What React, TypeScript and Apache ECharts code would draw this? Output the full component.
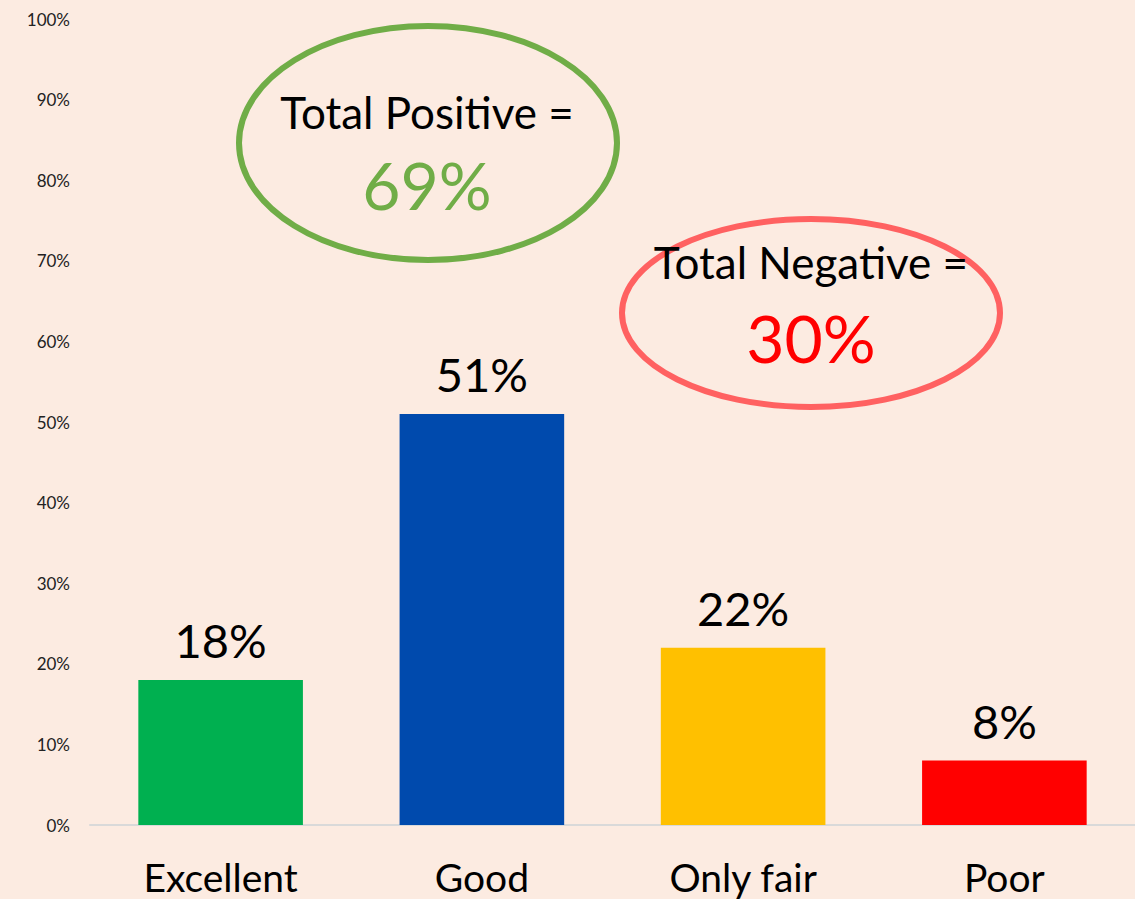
import React, { useEffect, useRef } from "react";
import * as echarts from "echarts";

const categories = ["Excellent", "Good", "Only fair", "Poor"];
const values = [18, 51, 22, 8];
const barColors = ["#00B050", "#004AAD", "#FFC000", "#FF0000"];
const yTicks = [0, 10, 20, 30, 40, 50, 60, 70, 80, 90, 100];
const positiveTotal = "69%";
const negativeTotal = "30%";

const FONT = "Lato, 'Open Sans', sans-serif";

export default function App() {
  const ref = useRef<HTMLDivElement>(null);
  useEffect(() => {
    if (!ref.current) return;
    const chart = echarts.init(ref.current, null, { renderer: "svg" });
    chart.setOption({
      animation: false,
      backgroundColor: "#FCEBE1",
      grid: { left: 90, right: 0, top: 19, bottom: 74, containLabel: false },
      xAxis: {
        type: "category",
        data: categories,
        axisLine: { show: true, lineStyle: { color: "#D9D9D9", width: 2 } },
        axisTick: { show: false },
        axisLabel: { color: "#000", fontSize: 39, fontFamily: FONT, margin: 32 },
      },
      yAxis: {
        type: "value",
        min: yTicks[0],
        max: yTicks[yTicks.length - 1],
        interval: 10,
        splitLine: { show: false },
        axisLine: { show: false },
        axisTick: { show: false },
        axisLabel: {
          color: "#222",
          fontSize: 17,
          fontFamily: FONT,
          margin: 20,
          formatter: (v: number) => v + "%",
        },
      },
      series: [
        {
          type: "bar",
          barWidth: "63%",
          data: values.map((v, i) => ({ value: v, itemStyle: { color: barColors[i] } })),
          label: {
            show: true,
            position: "top",
            distance: 16,
            color: "#000",
            fontSize: 47,
            fontFamily: FONT,
            formatter: "{c}%",
          },
        },
      ],
      graphic: [
        {
          type: "ellipse",
          shape: { cx: 428, cy: 143, rx: 189, ry: 117 },
          style: { fill: "none", stroke: "#70AD47", lineWidth: 6 },
        },
        {
          type: "text",
          x: 427,
          y: 112,
          style: {
            text: "Total Positive =",
            fill: "#000",
            font: `44px ${FONT}`,
            textAlign: "center",
            textVerticalAlign: "middle",
          },
        },
        {
          type: "text",
          x: 427,
          y: 184,
          style: {
            text: positiveTotal,
            fill: "#70AD47",
            font: `66px ${FONT}`,
            textAlign: "center",
            textVerticalAlign: "middle",
          },
        },
        {
          type: "ellipse",
          shape: { cx: 811, cy: 313, rx: 189, ry: 94 },
          style: { fill: "none", stroke: "#FF6161", lineWidth: 6 },
        },
        {
          type: "text",
          x: 811,
          y: 262,
          style: {
            text: "Total Negative =",
            fill: "#000",
            font: `44px ${FONT}`,
            textAlign: "center",
            textVerticalAlign: "middle",
          },
        },
        {
          type: "text",
          x: 811,
          y: 337,
          style: {
            text: negativeTotal,
            fill: "#FF0000",
            font: `66px ${FONT}`,
            textAlign: "center",
            textVerticalAlign: "middle",
          },
        },
      ],
    });
    return () => chart.dispose();
  }, []);
  return (
    <div
      ref={ref}
      style={{ position: "fixed", left: 0, top: 0, width: 1135, height: 899 }}
    />
  );
}
